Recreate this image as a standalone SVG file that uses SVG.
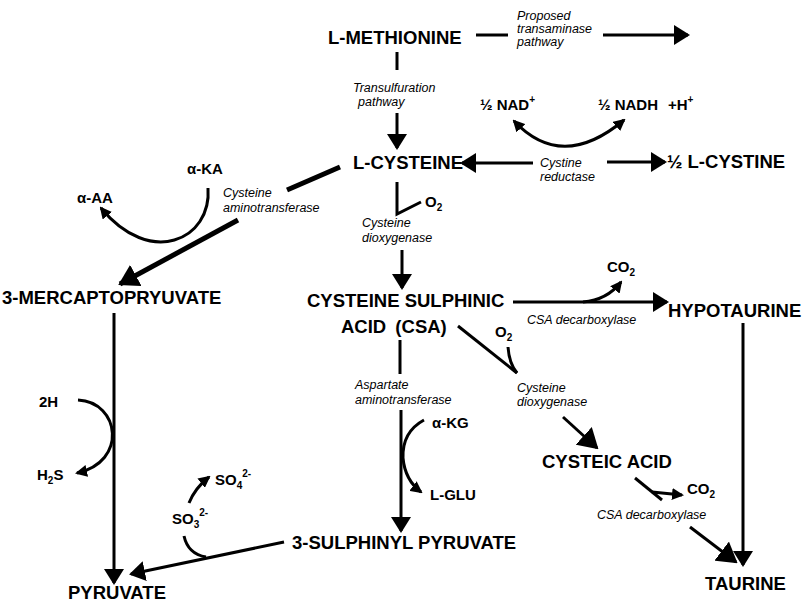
<svg xmlns="http://www.w3.org/2000/svg" width="809" height="603" viewBox="0 0 809 603">
<style>
text{font-family:"Liberation Sans",Arial,sans-serif;fill:#000}
.b{font-weight:bold;font-size:18.5px}
.s{font-weight:bold;font-size:15px}
.i{font-style:italic;font-size:12.5px}
.sub{font-size:10px}
.c{stroke:#000;stroke-width:3;fill:none}
.t{stroke-width:5}
</style>
<defs>
<marker id="ah" viewBox="0 0 16 20" markerWidth="16" markerHeight="20" refX="14" refY="10" orient="auto" markerUnits="userSpaceOnUse"><path d="M0,0 L16,10 L0,20 Z" fill="#000"/></marker>
<marker id="ahL" viewBox="0 0 20 24" markerWidth="20" markerHeight="24" refX="18" refY="12" orient="auto" markerUnits="userSpaceOnUse"><path d="M0,0 L20,12 L0,24 Z" fill="#000"/></marker>
<marker id="ahS" viewBox="0 0 12 12" markerWidth="12" markerHeight="12" refX="10" refY="6" orient="auto-start-reverse" markerUnits="userSpaceOnUse"><path d="M0,0 L12,6 L0,12 Z" fill="#000"/></marker>
</defs>
<rect width="809" height="603" fill="#fff"/>
<g id="connectors">
<line class="c" x1="476" y1="35" x2="508" y2="35"/>
<line class="c" x1="603" y1="35" x2="688" y2="35" marker-end="url(#ah)"/>
<line class="c" x1="397" y1="52" x2="397" y2="70"/>
<line class="c" x1="397" y1="113" x2="397" y2="148" marker-end="url(#ah)"/>
<path class="c" d="M514,121 Q562,172 624,120" marker-start="url(#ahS)" marker-end="url(#ahS)"/>
<line class="c" x1="533" y1="163" x2="462" y2="163" marker-end="url(#ah)"/>
<line class="c" x1="607" y1="162" x2="665" y2="162" marker-end="url(#ah)"/>
<line class="c t" x1="340" y1="167" x2="287" y2="190"/>
<line class="c t" x1="238" y1="220" x2="120" y2="284" marker-end="url(#ahL)"/>
<path class="c" d="M208,188 C212,240 150,268 101,208" marker-end="url(#ahS)"/>
<polyline class="c" points="397,182 397,214 421,202"/>
<line class="c" x1="402" y1="250" x2="402" y2="288" marker-end="url(#ah)"/>
<line class="c" x1="513" y1="302" x2="667" y2="302" marker-end="url(#ah)"/>
<path class="c" d="M583,302 Q607,300 621,282" marker-end="url(#ahS)"/>
<line class="c" x1="458" y1="326" x2="517" y2="373"/>
<path class="c" d="M508,347 Q509,363 517,373"/>
<line class="c" x1="563" y1="417" x2="597" y2="448" marker-end="url(#ahL)"/>
<line class="c" x1="400" y1="340" x2="400" y2="374"/>
<line class="c" x1="401" y1="410" x2="401" y2="531" marker-end="url(#ah)"/>
<path class="c" d="M424,420 Q402,432 403,458 Q405,480 421,492" marker-end="url(#ahS)"/>
<line class="c" x1="635" y1="478" x2="662" y2="500"/>
<path class="c" d="M652,492 L682,495" marker-end="url(#ahS)"/>
<line class="c" x1="690" y1="527" x2="736" y2="562" marker-end="url(#ahL)"/>
<line class="c" x1="743" y1="323" x2="743" y2="565" marker-end="url(#ah)"/>
<line class="c" x1="114" y1="313" x2="114" y2="583" marker-end="url(#ah)"/>
<path class="c" d="M78,400 C120,402 128,462 77,473" marker-end="url(#ahS)"/>
<line class="c" x1="284" y1="542" x2="131" y2="574" marker-end="url(#ah)"/>
<path class="c" d="M184,536 Q188,554 206,557"/>
<path class="c" d="M189,503 Q195,488 209,477" marker-end="url(#ahS)"/>
</g>
<g id="methionine"><text class="b" x="328" y="44">L-METHIONINE</text></g>
<g id="transaminase-label"><text class="i" x="517" y="20">Proposed</text><text class="i" x="517" y="33">transaminase</text><text class="i" x="517" y="46">pathway</text></g>
<g id="transsulfuration-label"><text class="i" x="353" y="92">Transulfuration</text><text class="i" x="358" y="106">pathway</text></g>
<g id="nad"><text class="s" x="480" y="110">½ NAD<tspan class="sub" dy="-7">+</tspan></text></g>
<g id="nadh"><text class="s" x="598" y="110">½ NADH</text><text class="s" x="668" y="110">+H<tspan class="sub" dy="-7">+</tspan></text></g>
<g id="cysteine"><text class="b" x="353" y="169">L-CYSTEINE</text></g>
<g id="cystine-reductase-label"><text class="i" x="540" y="167">Cystine</text><text class="i" x="540" y="181">reductase</text></g>
<g id="cystine"><text class="b" x="667" y="168">½ L-CYSTINE</text></g>
<g id="aka"><text class="s" x="187" y="174">α-KA</text></g>
<g id="aaa"><text class="s" x="77" y="203">α-AA</text></g>
<g id="cys-aminotransferase-label"><text class="i" x="223" y="197">Cysteine</text><text class="i" x="223" y="212">aminotransferase</text></g>
<g id="o2-a"><text class="s" x="425" y="207">O<tspan class="sub" dy="4">2</tspan></text></g>
<g id="dioxygenase-label-a"><text class="i" x="362" y="227">Cysteine</text><text class="i" x="362" y="242">dioxygenase</text></g>
<g id="mercaptopyruvate"><text class="b" x="2" y="304">3-MERCAPTOPRYUVATE</text></g>
<g id="csa"><text class="b" x="307" y="307">CYSTEINE SULPHINIC</text><text class="b" x="341" y="333" word-spacing="4">ACID (CSA)</text></g>
<g id="co2-a"><text class="s" x="607" y="272">CO<tspan class="sub" dy="4">2</tspan></text></g>
<g id="csa-decarboxylase-label-a"><text class="i" x="527" y="324">CSA decarboxylase</text></g>
<g id="hypotaurine"><text class="b" x="668" y="317">HYPOTAURINE</text></g>
<g id="o2-b"><text class="s" x="495" y="337" font-size="14">O<tspan class="sub" dy="4">2</tspan></text></g>
<g id="aspartate-label"><text class="i" x="355" y="389">Aspartate</text><text class="i" x="355" y="404">aminotransferase</text></g>
<g id="dioxygenase-label-b"><text class="i" x="517" y="392">Cysteine</text><text class="i" x="517" y="406">dioxygenase</text></g>
<g id="akg"><text class="s" x="432" y="428">α-KG</text></g>
<g id="cysteic-acid"><text class="b" x="542" y="468">CYSTEIC ACID</text></g>
<g id="lglu"><text class="s" x="430" y="500">L-GLU</text></g>
<g id="co2-b"><text class="s" x="687" y="494">CO<tspan class="sub" dy="4">2</tspan></text></g>
<g id="csa-decarboxylase-label-b"><text class="i" x="597" y="519">CSA decarboxylase</text></g>
<g id="h2"><text class="s" x="39" y="407" font-size="16">2H</text></g>
<g id="h2s"><text class="s" x="37" y="480">H<tspan class="sub" dy="4">2</tspan><tspan dy="-4">S</tspan></text></g>
<g id="so4"><text class="s" x="215" y="485">SO<tspan class="sub" dy="4">4</tspan><tspan class="sub" dy="-12">2-</tspan></text></g>
<g id="so3"><text class="s" x="172" y="524">SO<tspan class="sub" dy="4">3</tspan><tspan class="sub" dy="-12">2-</tspan></text></g>
<g id="sulphinyl-pyruvate"><text class="b" x="292" y="549">3-SULPHINYL PYRUVATE</text></g>
<g id="pyruvate"><text class="b" x="68" y="599">PYRUVATE</text></g>
<g id="taurine"><text class="b" x="705" y="590">TAURINE</text></g>
</svg>
